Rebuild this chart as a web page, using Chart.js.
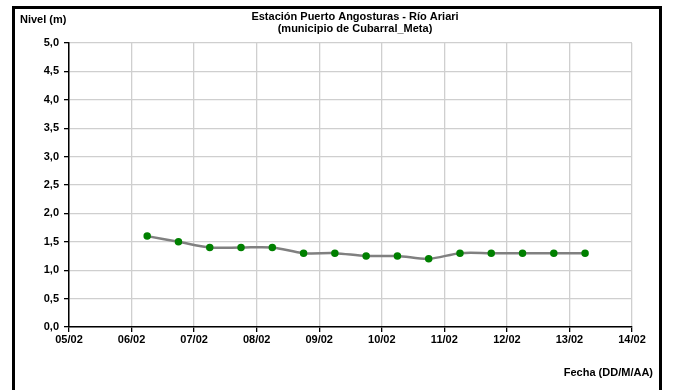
<!DOCTYPE html>
<html>
<head>
<meta charset="utf-8">
<script src="https://cdn.jsdelivr.net/npm/chart.js@4/dist/chart.umd.min.js"></script>
<style>
  html, body { margin: 0; padding: 0; background: #fff; }
  #wrap { position: relative; width: 674px; height: 390px; }
</style>
</head>
<body>
<div id="wrap"><canvas id="nivel" width="674" height="390"></canvas></div>
<script>
// datos
var fechas = ["06/02 06:00", "06/02 18:00", "07/02 06:00", "07/02 18:00", "08/02 06:00",
  "08/02 18:00", "09/02 06:00", "09/02 18:00", "10/02 06:00", "10/02 18:00",
  "11/02 06:00", "11/02 18:00", "12/02 06:00", "12/02 18:00", "13/02 06:00"];
var niveles = [1.6, 1.5, 1.4, 1.4, 1.4, 1.3, 1.3, 1.25, 1.25, 1.2, 1.3, 1.3, 1.3, 1.3, 1.3];
var etiquetasX = ["05/02", "06/02", "07/02", "08/02", "09/02", "10/02", "11/02", "12/02", "13/02", "14/02"];

// días desde 05/02 00:00
function aDias(f) {
  var dia = parseInt(f.slice(0, 2), 10);
  var hora = parseInt(f.slice(6, 8), 10);
  return dia - 5 + hora / 24;
}
var puntos = fechas.map((f, i) => ({ x: aDias(f), y: niveles[i] }));

var fuente = "'Liberation Sans', Arial, sans-serif";

// marco y textos
const textos = {
  id: "textos",
  beforeDraw(chart) {
    const c = chart.ctx;
    c.save();
    c.fillStyle = "#fff";
    c.fillRect(0, 0, chart.width, chart.height);
    c.restore();
  },
  afterDraw(chart) {
    const c = chart.ctx;
    c.save();
    c.strokeStyle = "#000";
    c.lineWidth = 3;
    c.strokeRect(13.5, 7.5, 647, 400);
    c.fillStyle = "#000";
    c.font = "bold 11px " + fuente;
    c.textBaseline = "middle";
    c.textAlign = "left";
    c.fillText("Nivel (m)", 20, 20);
    c.textAlign = "center";
    c.fillText("Estación Puerto Angosturas - Río Ariari", 355, 17);
    c.fillText("(municipio de Cubarral_Meta)", 355, 29);
    c.textAlign = "right";
    c.fillText("Fecha (DD/M/AA)", 653, 373);
    c.restore();
  },
};

const ctx = document.getElementById("nivel").getContext("2d");
const chart = new Chart(ctx, {
  type: "line",
  data: {
    datasets: [
      {
        label: "Nivel",
        data: puntos,
        borderColor: "#808080",
        borderWidth: 2.5,
        backgroundColor: "#008000",
        pointBackgroundColor: "#008000",
        pointBorderColor: "#008000",
        pointRadius: 2.5,
        tension: 0.3,
        fill: false,
      },
    ],
  },
  options: {
    responsive: false,
    animation: false,
    layout: { padding: { left: 0, right: 42, top: 43, bottom: 0 } },
    plugins: {
      legend: { display: false },
      title: { display: false },
      tooltip: { enabled: false },
    },
    scales: {
      x: {
        type: "linear",
        min: 0,
        max: 9,
        afterFit: (s) => { s.height = 63; },
        afterBuildTicks: (s) => {
          s.ticks = etiquetasX.map((l, i) => ({ value: i }));
        },
        grid: { color: "#cfcfcf", lineWidth: 1.3, tickColor: "#000", tickLength: 5 },
        border: { color: "#000", width: 1.5 },
        ticks: {
          color: "#000",
          font: { family: fuente, size: 11, weight: "bold" },
          padding: 1,
          maxRotation: 0,
          autoSkip: false,
          callback: (v) => etiquetasX[Math.round(v)],
        },
      },
      y: {
        min: 0,
        max: 5,
        afterFit: (s) => { s.width = 69; },
        grid: { color: "#cfcfcf", lineWidth: 1.3, tickColor: "#000", tickLength: 5 },
        border: { color: "#000", width: 1.5 },
        ticks: {
          stepSize: 0.5,
          color: "#000",
          font: { family: fuente, size: 11, weight: "bold" },
          padding: 5,
          callback: (v) => v.toFixed(1).replace(".", ","),
        },
      },
    },
  },
  plugins: [textos],
});
</script>
</body>
</html>
